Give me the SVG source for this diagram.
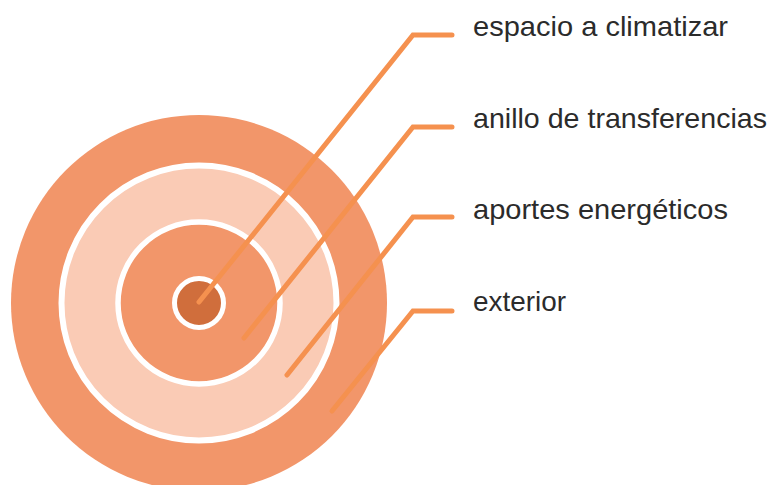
<svg xmlns="http://www.w3.org/2000/svg" width="768" height="485" viewBox="0 0 768 485">
<style>
.lbl{font-family:"Liberation Sans",Arial,sans-serif;font-size:28px;fill:#2b2b2b}
.lead{fill:none;stroke:#F5914F;stroke-width:5;stroke-linecap:round;stroke-linejoin:miter}
</style>
<rect width="768" height="485" fill="#ffffff"/>
<g id="exterior">
<circle cx="199" cy="303" r="188" fill="#F2966A"/>
</g>
<g id="aportes">
<circle cx="199" cy="303" r="137.5" fill="#FACBB5" stroke="#ffffff" stroke-width="6"/>
</g>
<g id="anillo">
<circle cx="199" cy="303" r="81" fill="#F2966A" stroke="#ffffff" stroke-width="5.5"/>
</g>
<g id="espacio">
<circle cx="199" cy="303" r="24.5" fill="#D06E3C" stroke="#ffffff" stroke-width="5"/>
</g>
<g id="connectors">
<polyline class="lead" points="199,302 413,35 452,35"/>
<polyline class="lead" points="244,338 413,127 452,127"/>
<polyline class="lead" points="287,375 413,217 452,217"/>
<polyline class="lead" points="332,411 413,311 452,311"/>
</g>
<g id="labels">
<text class="lbl" x="473" y="36" textLength="255" lengthAdjust="spacingAndGlyphs">espacio a climatizar</text>
<text class="lbl" x="473" y="128" textLength="294" lengthAdjust="spacingAndGlyphs">anillo de transferencias</text>
<text class="lbl" x="473" y="219" textLength="255" lengthAdjust="spacingAndGlyphs">aportes energéticos</text>
<text class="lbl" x="473" y="311" textLength="93" lengthAdjust="spacingAndGlyphs">exterior</text>
</g>
</svg>
